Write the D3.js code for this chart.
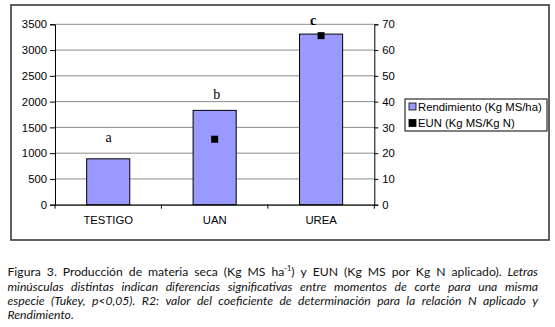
<!DOCTYPE html>
<html><head><meta charset="utf-8">
<script src="https://cdn.jsdelivr.net/npm/d3@7"></script>
<style>html,body{margin:0;padding:0;background:#fff;}svg{display:block;}</style>
</head><body>
<svg id="chart" width="555" height="327"></svg>
<script>
// ---- data ----
const categories = ["TESTIGO", "UAN", "UREA"];
const rendimiento = [890, 1830, 3310];          // Kg MS/ha (left axis)
const eun = [null, 25.4, 65.6];                 // Kg MS/Kg N (right axis)
const letters = ["a", "b", "c"];
const letterLevels = [1300, 2130, 3580];        // position of letters on left-axis units
const leftTicks = [0, 500, 1000, 1500, 2000, 2500, 3000, 3500];
const rightTicks = [0, 10, 20, 30, 40, 50, 60, 70];
const legendLabels = ["Rendimiento (Kg MS/ha)", "EUN (Kg MS/Kg N)"];

const svg = d3.select("#chart");
const L = 55, R = 374.3, T = 24.3, B = 204.7;

// outer border
svg.append("rect").attr("x", 11).attr("y", 5).attr("width", 538).attr("height", 235)
  .attr("fill", "#fff").attr("stroke", "#3a3a3a").attr("stroke-width", 1.6);

const x = d3.scaleBand().domain(categories).range([L, R]).padding(0);
const y = d3.scaleLinear().domain([0, 3500]).range([B, T]);
const y2 = d3.scaleLinear().domain([0, 70]).range([B, T]);

// gridlines
svg.append("g").selectAll("line").data(leftTicks).join("line")
  .attr("x1", L).attr("x2", R).attr("y1", d => y(d)).attr("y2", d => y(d))
  .attr("stroke", "#8c8c8c").attr("stroke-width", 1);

// bars
const bw = x.bandwidth() * 0.405;
svg.append("g").selectAll("rect").data(rendimiento).join("rect")
  .attr("x", (d, i) => x(categories[i]) + x.bandwidth() / 2 - bw / 2)
  .attr("y", d => y(d)).attr("width", bw).attr("height", d => B - y(d))
  .attr("fill", "#9999FF").attr("stroke", "#000").attr("stroke-width", 1);

// EUN markers
svg.append("g").selectAll("rect").data(eun.map((v, i) => ({v, c: categories[i]})).filter(d => d.v != null)).join("rect")
  .attr("x", d => x(d.c) + x.bandwidth() / 2 - 3.5)
  .attr("y", d => y2(d.v) - 3.5).attr("width", 7).attr("height", 7).attr("fill", "#000");

// axes
const axisFont = "Liberation Sans, Arial, sans-serif";
const gl = svg.append("g").attr("transform", `translate(${L},0)`)
  .call(d3.axisLeft(y).tickValues(leftTicks).tickSize(5).tickPadding(3).tickFormat(d3.format("d")));
const gr = svg.append("g").attr("transform", `translate(${R},0)`)
  .call(d3.axisRight(y2).tickValues(rightTicks).tickSize(4).tickPadding(4).tickFormat(d3.format("d")));
const gb = svg.append("g").attr("transform", `translate(0,${B})`)
  .call(d3.axisBottom(x).tickSize(0).tickPadding(11));
[gl, gr, gb].forEach(g => {
  g.select(".domain").attr("stroke", "#000").attr("stroke-width", 1);
  g.selectAll(".tick line").attr("stroke", "#000");
  g.selectAll("text").attr("font-family", axisFont).attr("font-size", 11.3).attr("fill", "#000");
});
gb.select(".domain").attr("stroke", "#000");
// category separator ticks
svg.append("g").selectAll("line").data(categories.concat(["__end"])).join("line")
  .attr("x1", (d, i) => L + i * x.bandwidth()).attr("x2", (d, i) => L + i * x.bandwidth())
  .attr("y1", B).attr("y2", B + 4).attr("stroke", "#000");

// significance letters
const letterDx = [0.5, 2, -8];
svg.append("g").selectAll("text").data(letters).join("text")
  .attr("x", (d, i) => x(categories[i]) + x.bandwidth() / 2 + letterDx[i])
  .attr("y", (d, i) => y(letterLevels[i]) + 4.5)
  .attr("text-anchor", "middle").attr("font-family", "Liberation Serif, Times New Roman, serif")
  .attr("font-size", 14).attr("font-weight", (d, i) => i === 2 ? "bold" : "normal")
  .text(d => d);

// legend
const lg = svg.append("g").attr("transform", "translate(405,99)");
lg.append("rect").attr("width", 142).attr("height", 32).attr("fill", "#fff")
  .attr("stroke", "#000").attr("stroke-width", 1);
legendLabels.forEach((t, i) => {
  const cy = 7.5 + i * 16.5;
  lg.append("rect").attr("x", 4).attr("y", cy - 3.5).attr("width", 7).attr("height", 7)
    .attr("fill", i === 0 ? "#9999FF" : "#000").attr("stroke", "#000").attr("stroke-width", 0.8);
  lg.append("text").attr("x", 13).attr("y", cy + 4).attr("font-family", axisFont)
    .attr("font-size", 11.3).text(t);
});

// caption (justified)
const capLines = [
  [[{t:"Figura"}],[{t:"3."}],[{t:"Producción"}],[{t:"de"}],[{t:"materia"}],[{t:"seca"}],[{t:"(Kg"}],[{t:"MS"}],
   [{t:"ha"},{t:"-1",sup:true},{t:")"}],[{t:"y"}],[{t:"EUN"}],[{t:"(Kg"}],[{t:"MS"}],[{t:"por"}],[{t:"Kg"}],[{t:"N"}],
   [{t:"aplicado)."}],[{t:"Letras",it:true}]],
  "minúsculas distintas indican diferencias significativas entre momentos de corte para una misma".split(" ").map(w => [{t:w, it:true}]),
  "especie (Tukey, p<0,05). R2: valor del coeficiente de determinación para la relación N aplicado y".split(" ").map(w => [{t:w, it:true}]),
  "Rendimiento.".split(" ").map(w => [{t:w, it:true}])
];
const capX0 = 7.5, capX1 = 538, baselines = [276.3, 290.6, 304.8, 319.1];
const capFont = "Lato, 'Open Sans', sans-serif", capSize = 12.2;
const cap = svg.append("g");
const measured = capLines.map((words, li) => {
  const g = cap.append("g");
  const items = words.map(runs => {
    const te = g.append("text").attr("font-family", capFont).attr("font-size", capSize).attr("fill", "#111");
    runs.forEach(r => {
      const ts = te.append("tspan").text(r.t);
      if (r.it) ts.attr("font-style", "italic");
      if (r.sup) ts.attr("font-size", capSize * 0.6).attr("dy", -5);
    });
    if (runs.some(r => r.sup)) te.selectAll("tspan").filter((d, i) => i === 2).attr("dy", 5);
    return {te, w: te.node().getComputedTextLength()};
  });
  return {g, items};
});
const spaceW = (() => { const t = cap.append("text").attr("font-family", capFont).attr("font-size", capSize).text("a a"); const w3 = t.node().getComputedTextLength(); t.text("aa"); const w2 = t.node().getComputedTextLength(); t.remove(); return w3 - w2; })();
const target = capX1 - capX0;
const maxNat = d3.max(measured.slice(0, 3), m => d3.sum(m.items, it => it.w) + (m.items.length - 1) * spaceW);
const s = Math.min(1, target / maxNat * 0.985);
measured.forEach((m, li) => {
  m.g.attr("transform", `translate(${capX0},${baselines[li]}) scale(${s},1)`);
  const sumW = d3.sum(m.items, it => it.w);
  const gap = li < 3 ? (target / s - sumW) / (m.items.length - 1) : spaceW;
  let cx = 0;
  m.items.forEach(it => { it.te.attr("x", cx).attr("y", 0); cx += it.w + gap; });
});
</script>
</body></html>
